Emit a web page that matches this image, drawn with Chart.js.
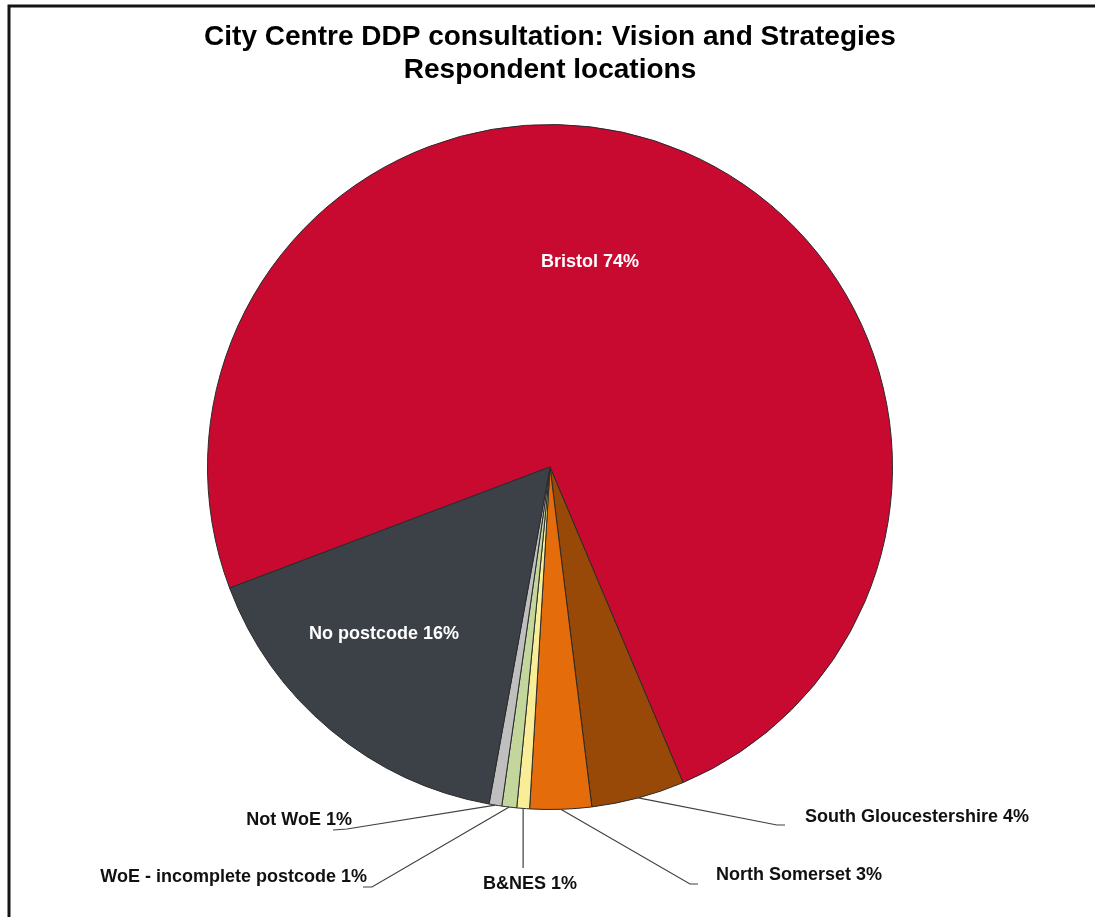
<!DOCTYPE html>
<html>
<head>
<meta charset="utf-8">
<title>Respondent locations</title>
<script src="https://cdn.jsdelivr.net/npm/chart.js@4.4.0/dist/chart.umd.min.js"></script>
<style>
  html, body { margin: 0; padding: 0; background: #fff; overflow: hidden; }
  #wrap { position: relative; width: 1095px; height: 917px; }
</style>
</head>
<body>
<div id="wrap"><canvas id="locationsPie" width="1095" height="917"></canvas></div>
<script>
// share of respondents by location (% of all responses)
const locations = ['Bristol', 'South Gloucestershire', 'North Somerset', 'B&NES', 'WoE - incomplete postcode', 'Not WoE', 'No postcode'];
const shares = [74.4, 4.4, 2.9, 0.6, 0.7, 0.6, 16.4];
const sliceColours = ['#C80A30', '#984807', '#E46C0A', '#F9EE97', '#C3D69B', '#BFBFBF', '#3C4148'];

// where each label sits, in px from the pie centre
// inside labels are just text; outside ones get a leader line (edge -> elbow -> end)
const labelPlaces = [
    { inside: true, text: [40, -205] },
    { text: [255, 350], align: 'left', elbow: [227, 358], end: [235, 358] },
    { text: [166, 408], align: 'left', elbow: [140, 417], end: [148, 417] },
    { text: [-20, 417], align: 'center', drop: 401 },
    { text: [-183, 410], align: 'right', elbow: [-178, 420], end: [-187, 420] },
    { text: [-198, 353], align: 'right', elbow: [-203, 362], end: [-217, 363] },
    { inside: true, text: [-166, 167] }
];

const labelFont = 'bold 18px "Liberation Sans", Arial, sans-serif';

const sliceLabels = {
    id: 'sliceLabels',
    afterDatasetsDraw(chart) {
        const ctx = chart.ctx;
        const arcs = chart.getDatasetMeta(0).data;
        const total = shares.reduce((a, b) => a + b, 0);
        ctx.save();
        ctx.font = labelFont;
        ctx.textBaseline = 'middle';
        arcs.forEach((arc, i) => {
            const p = arc.getProps(['x', 'y', 'startAngle', 'endAngle', 'outerRadius'], true);
            const place = labelPlaces[i];
            const text = locations[i] + ' ' + Math.round(shares[i] / total * 100) + '%';
            if (place.inside) {
                ctx.fillStyle = '#ffffff';
                ctx.textAlign = 'center';
                ctx.fillText(text, p.x + place.text[0], p.y + place.text[1]);
                return;
            }
            const mid = (p.startAngle + p.endAngle) / 2;
            const sx = p.x + Math.cos(mid) * p.outerRadius;
            const sy = p.y + Math.sin(mid) * p.outerRadius;

            ctx.strokeStyle = '#404040';
            ctx.lineWidth = 1.2;
            ctx.beginPath();
            ctx.moveTo(sx, sy);
            if (place.drop !== undefined) {
                ctx.lineTo(sx, p.y + place.drop);
            } else {
                ctx.lineTo(p.x + place.elbow[0], p.y + place.elbow[1]);
                ctx.lineTo(p.x + place.end[0], p.y + place.end[1]);
            }
            ctx.stroke();

            ctx.fillStyle = '#111111';
            ctx.textAlign = place.align;
            ctx.fillText(text, p.x + place.text[0], p.y + place.text[1]);
        });
        ctx.restore();
    }
};

// heavy frame round the slide, running off the right and bottom edges
const frame = {
    id: 'frame',
    afterDraw(chart) {
        const ctx = chart.ctx;
        ctx.save();
        ctx.strokeStyle = '#141414';
        ctx.lineWidth = 3;
        ctx.strokeRect(9, 6, 2000, 2000);
        ctx.restore();
    }
};

new Chart(document.getElementById('locationsPie').getContext('2d'), {
    type: 'pie',
    data: {
        labels: locations,
        datasets: [{
            data: shares,
            backgroundColor: sliceColours,
            borderColor: '#2a2a2a',
            borderWidth: 1
        }]
    },
    options: {
        responsive: false,
        animation: false,
        events: [],
        rotation: 249.3,
        layout: {
            padding: { top: 0, bottom: 107, left: 60, right: 55 }
        },
        plugins: {
            legend: { display: false },
            tooltip: { enabled: false },
            title: {
                display: true,
                text: ['City Centre DDP consultation: Vision and Strategies', 'Respondent locations'],
                color: '#000000',
                font: { family: '"Liberation Sans", Arial, sans-serif', size: 28, weight: 'bold', lineHeight: 1.18 },
                padding: { top: 20.5, bottom: 37.4 }
            }
        }
    },
    plugins: [sliceLabels, frame]
});
</script>
</body>
</html>
